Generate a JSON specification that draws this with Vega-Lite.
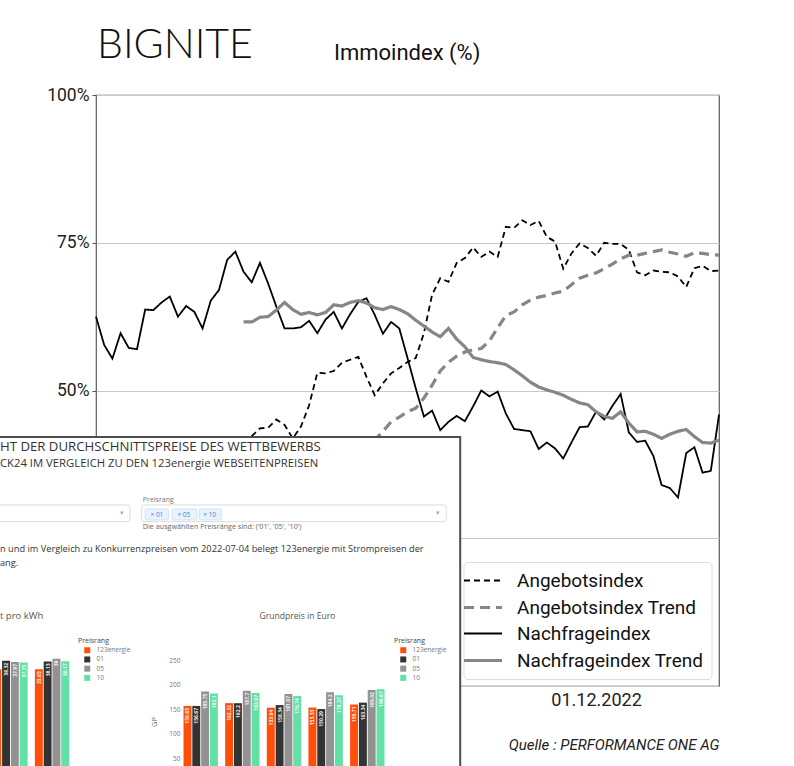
{
  "$schema": "https://vega.github.io/schema/vega-lite/v6.json",
  "width": 623,
  "height": 591,
  "autosize": "none",
  "padding": {"left": 96, "top": 95, "right": 75, "bottom": 80},
  "background": "white",
  "title": {"text": "Immoindex (%)", "anchor": "start", "frame": "group", "dx": 238, "offset": -40, "fontSize": 22, "font": "Roboto", "fontWeight": "normal", "color": "#111111"},
  "config": {
    "font": "Roboto",
    "view": {"stroke": "#5a5a5a", "strokeWidth": 1.2}
  },
  "datasets": {
    "immo": [
      {"d": "2021-09-30", "Angebotsindex": 30.5, "Nachfrageindex": 62.5},
      {"d": "2021-10-07", "Angebotsindex": 32.0, "Nachfrageindex": 57.7},
      {"d": "2021-10-14", "Angebotsindex": 31.2, "Nachfrageindex": 55.4},
      {"d": "2021-10-21", "Angebotsindex": 33.5, "Nachfrageindex": 59.7},
      {"d": "2021-10-28", "Angebotsindex": 34.1, "Nachfrageindex": 57.2},
      {"d": "2021-11-04", "Angebotsindex": 33.0, "Nachfrageindex": 57.0},
      {"d": "2021-11-11", "Angebotsindex": 35.2, "Nachfrageindex": 63.7},
      {"d": "2021-11-18", "Angebotsindex": 36.4, "Nachfrageindex": 63.6},
      {"d": "2021-11-25", "Angebotsindex": 35.8, "Nachfrageindex": 64.9},
      {"d": "2021-12-02", "Angebotsindex": 37.5, "Nachfrageindex": 65.9},
      {"d": "2021-12-09", "Angebotsindex": 38.1, "Nachfrageindex": 62.5},
      {"d": "2021-12-16", "Angebotsindex": 37.2, "Nachfrageindex": 64.3},
      {"d": "2021-12-23", "Angebotsindex": 39.0, "Nachfrageindex": 63.3},
      {"d": "2021-12-30", "Angebotsindex": 38.4, "Nachfrageindex": 60.5},
      {"d": "2022-01-06", "Angebotsindex": 40.1, "Nachfrageindex": 65.2},
      {"d": "2022-01-13", "Angebotsindex": 39.5, "Nachfrageindex": 67.0},
      {"d": "2022-01-20", "Angebotsindex": 40.8, "Nachfrageindex": 72.1},
      {"d": "2022-01-27", "Angebotsindex": 41.2, "Nachfrageindex": 73.5},
      {"d": "2022-02-03", "Angebotsindex": 40.5, "Angebotsindex Trend": 31.0, "Nachfrageindex": 70.1, "Nachfrageindex Trend": 61.6},
      {"d": "2022-02-10", "Angebotsindex": 42.3, "Angebotsindex Trend": 31.6, "Nachfrageindex": 68.3, "Nachfrageindex Trend": 61.6},
      {"d": "2022-02-17", "Angebotsindex": 43.6, "Angebotsindex Trend": 32.2, "Nachfrageindex": 71.6, "Nachfrageindex Trend": 62.4},
      {"d": "2022-02-24", "Angebotsindex": 43.7, "Angebotsindex Trend": 32.8, "Nachfrageindex": 68.1, "Nachfrageindex Trend": 62.5},
      {"d": "2022-03-03", "Angebotsindex": 45.1, "Angebotsindex Trend": 33.4, "Nachfrageindex": 64.2, "Nachfrageindex Trend": 63.6},
      {"d": "2022-03-10", "Angebotsindex": 44.2, "Angebotsindex Trend": 34.0, "Nachfrageindex": 60.5, "Nachfrageindex Trend": 64.9},
      {"d": "2022-03-17", "Angebotsindex": 41.9, "Angebotsindex Trend": 34.5, "Nachfrageindex": 60.5, "Nachfrageindex Trend": 63.7},
      {"d": "2022-03-24", "Angebotsindex": 43.9, "Angebotsindex Trend": 35.1, "Nachfrageindex": 60.7, "Nachfrageindex Trend": 62.9},
      {"d": "2022-03-31", "Angebotsindex": 47.5, "Angebotsindex Trend": 35.7, "Nachfrageindex": 61.8, "Nachfrageindex Trend": 63.2},
      {"d": "2022-04-07", "Angebotsindex": 53.0, "Angebotsindex Trend": 36.3, "Nachfrageindex": 59.7, "Nachfrageindex Trend": 62.8},
      {"d": "2022-04-14", "Angebotsindex": 52.9, "Angebotsindex Trend": 37.0, "Nachfrageindex": 62.0, "Nachfrageindex Trend": 63.2},
      {"d": "2022-04-21", "Angebotsindex": 53.3, "Angebotsindex Trend": 37.6, "Nachfrageindex": 63.3, "Nachfrageindex Trend": 64.5},
      {"d": "2022-04-28", "Angebotsindex": 54.7, "Angebotsindex Trend": 38.3, "Nachfrageindex": 60.5, "Nachfrageindex Trend": 64.3},
      {"d": "2022-05-05", "Angebotsindex": 55.2, "Angebotsindex Trend": 39.0, "Nachfrageindex": 62.9, "Nachfrageindex Trend": 64.9},
      {"d": "2022-05-12", "Angebotsindex": 55.7, "Angebotsindex Trend": 39.8, "Nachfrageindex": 65.0, "Nachfrageindex Trend": 65.2},
      {"d": "2022-05-19", "Angebotsindex": 52.3, "Angebotsindex Trend": 40.6, "Nachfrageindex": 65.6, "Nachfrageindex Trend": 64.8},
      {"d": "2022-05-26", "Angebotsindex": 49.2, "Angebotsindex Trend": 41.6, "Nachfrageindex": 62.8, "Nachfrageindex Trend": 64.0},
      {"d": "2022-06-02", "Angebotsindex": 51.2, "Angebotsindex Trend": 43.1, "Nachfrageindex": 59.6, "Nachfrageindex Trend": 63.7},
      {"d": "2022-06-09", "Angebotsindex": 52.9, "Angebotsindex Trend": 44.7, "Nachfrageindex": 61.6, "Nachfrageindex Trend": 64.2},
      {"d": "2022-06-16", "Angebotsindex": 53.8, "Angebotsindex Trend": 45.5, "Nachfrageindex": 60.5, "Nachfrageindex Trend": 63.7},
      {"d": "2022-06-23", "Angebotsindex": 54.8, "Angebotsindex Trend": 46.4, "Nachfrageindex": 55.5, "Nachfrageindex Trend": 63.0},
      {"d": "2022-06-30", "Angebotsindex": 55.5, "Angebotsindex Trend": 47.0, "Nachfrageindex": 50.4, "Nachfrageindex Trend": 61.9},
      {"d": "2022-07-07", "Angebotsindex": 59.7, "Angebotsindex Trend": 48.7, "Nachfrageindex": 45.6, "Nachfrageindex Trend": 60.9},
      {"d": "2022-07-14", "Angebotsindex": 66.2, "Angebotsindex Trend": 50.9, "Nachfrageindex": 46.6, "Nachfrageindex Trend": 59.9},
      {"d": "2022-07-21", "Angebotsindex": 69.0, "Angebotsindex Trend": 53.3, "Nachfrageindex": 43.3, "Nachfrageindex Trend": 59.1},
      {"d": "2022-07-28", "Angebotsindex": 68.4, "Angebotsindex Trend": 54.8, "Nachfrageindex": 44.7, "Nachfrageindex Trend": 60.5},
      {"d": "2022-08-04", "Angebotsindex": 71.6, "Angebotsindex Trend": 55.8, "Nachfrageindex": 45.7, "Nachfrageindex Trend": 58.7},
      {"d": "2022-08-11", "Angebotsindex": 72.4, "Angebotsindex Trend": 56.5, "Nachfrageindex": 44.8, "Nachfrageindex Trend": 57.4},
      {"d": "2022-08-18", "Angebotsindex": 74.2, "Angebotsindex Trend": 56.9, "Nachfrageindex": 47.3, "Nachfrageindex Trend": 55.6},
      {"d": "2022-08-25", "Angebotsindex": 72.6, "Angebotsindex Trend": 57.1, "Nachfrageindex": 50.0, "Nachfrageindex Trend": 55.2},
      {"d": "2022-09-01", "Angebotsindex": 73.5, "Angebotsindex Trend": 58.4, "Nachfrageindex": 49.0, "Nachfrageindex Trend": 54.9},
      {"d": "2022-09-08", "Angebotsindex": 72.6, "Angebotsindex Trend": 60.6, "Nachfrageindex": 49.8, "Nachfrageindex Trend": 54.7},
      {"d": "2022-09-15", "Angebotsindex": 77.7, "Angebotsindex Trend": 62.7, "Nachfrageindex": 46.1, "Nachfrageindex Trend": 54.4},
      {"d": "2022-09-22", "Angebotsindex": 77.5, "Angebotsindex Trend": 63.3, "Nachfrageindex": 43.5, "Nachfrageindex Trend": 53.5},
      {"d": "2022-09-29", "Angebotsindex": 78.8, "Angebotsindex Trend": 64.5, "Nachfrageindex": 43.3, "Nachfrageindex Trend": 52.5},
      {"d": "2022-10-06", "Angebotsindex": 78.0, "Angebotsindex Trend": 65.3, "Nachfrageindex": 43.1, "Nachfrageindex Trend": 51.4},
      {"d": "2022-10-13", "Angebotsindex": 78.7, "Angebotsindex Trend": 65.8, "Nachfrageindex": 40.1, "Nachfrageindex Trend": 50.6},
      {"d": "2022-10-20", "Angebotsindex": 76.0, "Angebotsindex Trend": 66.1, "Nachfrageindex": 41.2, "Nachfrageindex Trend": 50.1},
      {"d": "2022-10-27", "Angebotsindex": 75.2, "Angebotsindex Trend": 66.5, "Nachfrageindex": 40.2, "Nachfrageindex Trend": 49.7},
      {"d": "2022-11-03", "Angebotsindex": 70.6, "Angebotsindex Trend": 66.8, "Nachfrageindex": 38.5, "Nachfrageindex Trend": 49.2},
      {"d": "2022-11-10", "Angebotsindex": 73.2, "Angebotsindex Trend": 67.9, "Nachfrageindex": 41.2, "Nachfrageindex Trend": 48.5},
      {"d": "2022-11-17", "Angebotsindex": 74.9, "Angebotsindex Trend": 69.0, "Nachfrageindex": 43.8, "Nachfrageindex Trend": 47.9},
      {"d": "2022-11-24", "Angebotsindex": 74.1, "Angebotsindex Trend": 69.5, "Nachfrageindex": 43.9, "Nachfrageindex Trend": 47.6},
      {"d": "2022-12-01", "Angebotsindex": 72.8, "Angebotsindex Trend": 69.9, "Nachfrageindex": 46.4, "Nachfrageindex Trend": 46.4},
      {"d": "2022-12-08", "Angebotsindex": 75.0, "Angebotsindex Trend": 70.6, "Nachfrageindex": 45.1, "Nachfrageindex Trend": 45.6},
      {"d": "2022-12-15", "Angebotsindex": 74.8, "Angebotsindex Trend": 71.4, "Nachfrageindex": 47.4, "Nachfrageindex Trend": 45.3},
      {"d": "2022-12-22", "Angebotsindex": 74.8, "Angebotsindex Trend": 72.3, "Nachfrageindex": 49.4, "Nachfrageindex Trend": 46.4},
      {"d": "2022-12-29", "Angebotsindex": 73.8, "Angebotsindex Trend": 72.9, "Nachfrageindex": 42.9, "Nachfrageindex Trend": 44.5},
      {"d": "2023-01-05", "Angebotsindex": 70.0, "Angebotsindex Trend": 72.9, "Nachfrageindex": 41.3, "Nachfrageindex Trend": 43.0},
      {"d": "2023-01-12", "Angebotsindex": 69.5, "Angebotsindex Trend": 73.2, "Nachfrageindex": 41.5, "Nachfrageindex Trend": 43.1},
      {"d": "2023-01-19", "Angebotsindex": 70.3, "Angebotsindex Trend": 73.5, "Nachfrageindex": 38.9, "Nachfrageindex Trend": 42.6},
      {"d": "2023-01-26", "Angebotsindex": 70.1, "Angebotsindex Trend": 73.8, "Nachfrageindex": 34.0, "Nachfrageindex Trend": 41.9},
      {"d": "2023-02-02", "Angebotsindex": 70.0, "Angebotsindex Trend": 73.4, "Nachfrageindex": 33.5, "Nachfrageindex Trend": 42.6},
      {"d": "2023-02-09", "Angebotsindex": 69.3, "Angebotsindex Trend": 73.1, "Nachfrageindex": 31.9, "Nachfrageindex Trend": 43.1},
      {"d": "2023-02-16", "Angebotsindex": 67.5, "Angebotsindex Trend": 72.7, "Nachfrageindex": 39.4, "Nachfrageindex Trend": 43.4},
      {"d": "2023-02-23", "Angebotsindex": 70.7, "Angebotsindex Trend": 73.3, "Nachfrageindex": 40.4, "Nachfrageindex Trend": 42.2},
      {"d": "2023-03-02", "Angebotsindex": 71.1, "Angebotsindex Trend": 73.2, "Nachfrageindex": 36.1, "Nachfrageindex Trend": 41.2},
      {"d": "2023-03-09", "Angebotsindex": 70.2, "Angebotsindex Trend": 73.0, "Nachfrageindex": 36.4, "Nachfrageindex Trend": 41.1},
      {"d": "2023-03-16", "Angebotsindex": 70.3, "Angebotsindex Trend": 72.9, "Nachfrageindex": 45.9, "Nachfrageindex Trend": 41.6}
    ],
    "gp": [
      {"Gruppe": "1", "Preisrang": "123energie", "GP": 156.65},
      {"Gruppe": "1", "Preisrang": "01", "GP": 156.67},
      {"Gruppe": "1", "Preisrang": "05", "GP": 185.75},
      {"Gruppe": "1", "Preisrang": "10", "GP": 182.1},
      {"Gruppe": "2", "Preisrang": "123energie", "GP": 162.32},
      {"Gruppe": "2", "Preisrang": "01", "GP": 162.2},
      {"Gruppe": "2", "Preisrang": "05", "GP": 187.7},
      {"Gruppe": "2", "Preisrang": "10", "GP": 182.97},
      {"Gruppe": "3", "Preisrang": "123energie", "GP": 153.04},
      {"Gruppe": "3", "Preisrang": "01", "GP": 158.34},
      {"Gruppe": "3", "Preisrang": "05", "GP": 181.07},
      {"Gruppe": "3", "Preisrang": "10", "GP": 176.74},
      {"Gruppe": "4", "Preisrang": "123energie", "GP": 153.33},
      {"Gruppe": "4", "Preisrang": "01", "GP": 150.29},
      {"Gruppe": "4", "Preisrang": "05", "GP": 184.2},
      {"Gruppe": "4", "Preisrang": "10", "GP": 178.37},
      {"Gruppe": "5", "Preisrang": "123energie", "GP": 159.71},
      {"Gruppe": "5", "Preisrang": "01", "GP": 163.34},
      {"Gruppe": "5", "Preisrang": "05", "GP": 189.02},
      {"Gruppe": "5", "Preisrang": "10", "GP": 190.67}
    ],
    "kwh": [
      {"Gruppe": "4", "Preisrang": "123energie", "ct": 35.62},
      {"Gruppe": "4", "Preisrang": "01", "ct": 38.32},
      {"Gruppe": "4", "Preisrang": "05", "ct": 37.97},
      {"Gruppe": "4", "Preisrang": "10", "ct": 37.75},
      {"Gruppe": "5", "Preisrang": "123energie", "ct": 35.65},
      {"Gruppe": "5", "Preisrang": "01", "ct": 38.13},
      {"Gruppe": "5", "Preisrang": "05", "ct": 39.0},
      {"Gruppe": "5", "Preisrang": "10", "ct": 38.17}
    ]
  },
  "layer": [
    {
      "layer": [
        {
          "data": {"name": "immo"},
          "transform": [
            {"fold": ["Angebotsindex", "Angebotsindex Trend", "Nachfrageindex", "Nachfrageindex Trend"], "as": ["Reihe", "Wert"]},
            {"filter": "isValid(datum.Wert)"}
          ],
          "mark": {"type": "line"},
          "encoding": {
            "x": {
              "field": "d", "type": "temporal",
              "scale": {"domain": [{"year": 2021, "month": 9, "date": 30, "utc": true}, {"year": 2023, "month": 3, "date": 16, "utc": true}]},
              "axis": {
                "values": [{"year": 2022, "month": 12, "date": 1, "utc": true}],
                "format": "%d.%m.%Y", "grid": false, "domain": false, "ticks": false,
                "labelFontSize": 18, "labelColor": "#222222", "labelPadding": 5,
                "title": "Quelle : PERFORMANCE ONE AG", "titleAnchor": "end", "titleFontStyle": "italic",
                "titleFontWeight": "normal", "titleFontSize": 15, "titleColor": "#222222", "titlePadding": 28
              }
            },
            "y": {
              "field": "Wert", "type": "quantitative",
              "scale": {"domain": [0, 100], "nice": false, "zero": false},
              "axis": {
                "values": [0, 25, 50, 75, 100], "labelExpr": "datum.value >= 50 ? datum.value + '%' : ''",
                "grid": true, "gridColor": "#c8c8c8", "domain": false, "tickColor": "#555555", "tickSize": 4,
                "labelFontSize": 17.5, "labelColor": "#222222", "labelPadding": 3, "title": null
              }
            },
            "color": {
              "field": "Reihe", "type": "nominal",
              "scale": {"domain": ["Angebotsindex", "Angebotsindex Trend", "Nachfrageindex", "Nachfrageindex Trend"], "range": ["#000000", "#868686", "#000000", "#868686"]},
              "legend": {
                "title": null, "orient": "none", "legendX": 367.5, "legendY": 467,
                "symbolType": "M-2,0H2", "symbolSize": 361, "labelFontSize": 19, "labelFont": "Roboto", "labelColor": "#111111", "labelLimit": 400,
                "labelOffset": 22.5, "rowPadding": 5, "padding": 8, "strokeColor": "#dddddd", "fillColor": "#ffffff", "cornerRadius": 4
              }
            },
            "strokeDash": {
              "field": "Reihe", "type": "nominal",
              "scale": {"domain": ["Angebotsindex", "Angebotsindex Trend", "Nachfrageindex", "Nachfrageindex Trend"], "range": [[6, 4], [10, 6], [1, 0], [1, 0]]},
              "legend": {"title": null, "orient": "none"}
            },
            "strokeWidth": {
              "field": "Reihe", "type": "nominal",
              "scale": {"type": "ordinal", "domain": ["Angebotsindex", "Angebotsindex Trend", "Nachfrageindex", "Nachfrageindex Trend"], "range": [1.8, 3.2, 1.8, 3.2]},
              "legend": {"title": null, "orient": "none"}
            }
          }
        },
        {
          "data": {"values": [{}]},
          "mark": {"type": "rect", "fill": "#ffffff", "stroke": "#4d4d4d", "strokeWidth": 2},
          "encoding": {
            "x": {"datum": {"year": 2021, "month": 6, "date": 1, "utc": true}, "type": "temporal"},
            "x2": {"datum": {"year": 2022, "month": 8, "date": 7, "utc": true}},
            "y": {"datum": 42.13, "type": "quantitative"},
            "y2": {"datum": -25}
          }
        },
        {
          "data": {"values": [{}]},
          "mark": {"type": "rect", "fill": "#ffffff", "stroke": "#dcdcdc", "strokeWidth": 1, "cornerRadius": 2},
          "encoding": {
            "x": {"datum": {"year": 2021, "month": 6, "date": 1, "utc": true}, "type": "temporal"},
            "x2": {"datum": {"year": 2021, "month": 10, "date": 29, "utc": true}},
            "y": {"datum": 30.63, "type": "quantitative"},
            "y2": {"datum": 27.8}
          }
        },
        {
          "data": {"values": [{}]},
          "mark": {"type": "rect", "fill": "#ffffff", "stroke": "#dcdcdc", "strokeWidth": 1, "cornerRadius": 2},
          "encoding": {
            "x": {"datum": {"year": 2021, "month": 11, "date": 8, "utc": true}, "type": "temporal"},
            "x2": {"datum": {"year": 2022, "month": 7, "date": 26, "utc": true}},
            "y": {"datum": 30.63, "type": "quantitative"},
            "y2": {"datum": 27.8}
          }
        },
        {
          "data": {"values": [{}]},
          "mark": {"type": "rect", "fill": "#eaf2fc", "stroke": "#c9ddf3", "strokeWidth": 0.8, "cornerRadius": 1},
          "encoding": {
            "x": {"datum": {"year": 2021, "month": 11, "date": 11, "utc": true}, "type": "temporal"},
            "x2": {"datum": {"year": 2021, "month": 12, "date": 1, "utc": true}},
            "y": {"datum": 29.95, "type": "quantitative"},
            "y2": {"datum": 28.09}
          }
        },
        {
          "data": {"values": [{}]},
          "mark": {"type": "rect", "fill": "#eaf2fc", "stroke": "#c9ddf3", "strokeWidth": 0.8, "cornerRadius": 1},
          "encoding": {
            "x": {"datum": {"year": 2021, "month": 12, "date": 4, "utc": true}, "type": "temporal"},
            "x2": {"datum": {"year": 2021, "month": 12, "date": 25, "utc": true}},
            "y": {"datum": 29.95, "type": "quantitative"},
            "y2": {"datum": 28.09}
          }
        },
        {
          "data": {"values": [{}]},
          "mark": {"type": "rect", "fill": "#eaf2fc", "stroke": "#c9ddf3", "strokeWidth": 0.8, "cornerRadius": 1},
          "encoding": {
            "x": {"datum": {"year": 2021, "month": 12, "date": 27, "utc": true}, "type": "temporal"},
            "x2": {"datum": {"year": 2022, "month": 1, "date": 15, "utc": true}},
            "y": {"datum": 29.95, "type": "quantitative"},
            "y2": {"datum": 28.09}
          }
        },
        {
          "data": {"values": [{}]},
          "mark": {"type": "text", "text": "HT DER DURCHSCHNITTSPREISE DES WETTBEWERBS", "align": "left", "baseline": "alphabetic", "font": "Open Sans", "fontSize": 13.2, "color": "#333333"},
          "encoding": {"x": {"datum": {"year": 2021, "month": 7, "date": 10, "utc": true}, "type": "temporal"}, "y": {"datum": 39.8, "type": "quantitative"}}
        },
        {
          "data": {"values": [{}]},
          "mark": {"type": "text", "text": "CK24 IM VERGLEICH ZU DEN 123energie WEBSEITENPREISEN", "align": "left", "baseline": "alphabetic", "font": "Open Sans", "fontSize": 11.3, "color": "#333333"},
          "encoding": {"x": {"datum": {"year": 2021, "month": 7, "date": 10, "utc": true}, "type": "temporal"}, "y": {"datum": 37.06, "type": "quantitative"}}
        },
        {
          "data": {"values": [{}]},
          "mark": {"type": "text", "text": "Preisrang", "align": "left", "baseline": "alphabetic", "font": "Open Sans", "fontSize": 7, "color": "#777777"},
          "encoding": {"x": {"datum": {"year": 2021, "month": 11, "date": 9, "utc": true}, "type": "temporal"}, "y": {"datum": 31.13, "type": "quantitative"}}
        },
        {
          "data": {"values": [{}]},
          "mark": {"type": "text", "text": "Die ausgwählten Preisränge sind: ('01', '05', '10')", "align": "left", "baseline": "alphabetic", "font": "Open Sans", "fontSize": 7.2, "color": "#666666"},
          "encoding": {"x": {"datum": {"year": 2021, "month": 11, "date": 9, "utc": true}, "type": "temporal"}, "y": {"datum": 26.57, "type": "quantitative"}}
        },
        {
          "data": {"values": [{}]},
          "mark": {"type": "text", "text": "n und im Vergleich zu Konkurrenzpreisen vom 2022-07-04 belegt 123energie mit Strompreisen der", "align": "left", "baseline": "alphabetic", "font": "Open Sans", "fontSize": 9.25, "color": "#333333"},
          "encoding": {"x": {"datum": {"year": 2021, "month": 7, "date": 10, "utc": true}, "type": "temporal"}, "y": {"datum": 22.67, "type": "quantitative"}}
        },
        {
          "data": {"values": [{}]},
          "mark": {"type": "text", "text": "ang.", "align": "left", "baseline": "alphabetic", "font": "Open Sans", "fontSize": 9.25, "color": "#333333"},
          "encoding": {"x": {"datum": {"year": 2021, "month": 7, "date": 10, "utc": true}, "type": "temporal"}, "y": {"datum": 20.3, "type": "quantitative"}}
        },
        {
          "data": {"values": [{}]},
          "mark": {"type": "text", "text": "t pro kWh", "align": "left", "baseline": "alphabetic", "font": "Open Sans", "fontSize": 9.5, "color": "#555555"},
          "encoding": {"x": {"datum": {"year": 2021, "month": 7, "date": 10, "utc": true}, "type": "temporal"}, "y": {"datum": 11.34, "type": "quantitative"}}
        },
        {
          "data": {"values": [{}]},
          "mark": {"type": "text", "text": "Grundpreis in Euro", "align": "center", "baseline": "alphabetic", "font": "Open Sans", "fontSize": 8.6, "color": "#555555"},
          "encoding": {"x": {"datum": {"year": 2022, "month": 3, "date": 21, "utc": true}, "type": "temporal"}, "y": {"datum": 11.34, "type": "quantitative"}}
        },
        {
          "data": {"values": [{}]},
          "mark": {"type": "text", "text": "× 01", "align": "center", "baseline": "alphabetic", "font": "Open Sans", "fontSize": 6.5, "color": "#3d8bd9"},
          "encoding": {"x": {"datum": {"year": 2021, "month": 11, "date": 21, "utc": true}, "type": "temporal"}, "y": {"datum": 28.6, "type": "quantitative"}}
        },
        {
          "data": {"values": [{}]},
          "mark": {"type": "text", "text": "× 05", "align": "center", "baseline": "alphabetic", "font": "Open Sans", "fontSize": 6.5, "color": "#3d8bd9"},
          "encoding": {"x": {"datum": {"year": 2021, "month": 12, "date": 14, "utc": true}, "type": "temporal"}, "y": {"datum": 28.6, "type": "quantitative"}}
        },
        {
          "data": {"values": [{}]},
          "mark": {"type": "text", "text": "× 10", "align": "center", "baseline": "alphabetic", "font": "Open Sans", "fontSize": 6.5, "color": "#3d8bd9"},
          "encoding": {"x": {"datum": {"year": 2022, "month": 1, "date": 5, "utc": true}, "type": "temporal"}, "y": {"datum": 28.6, "type": "quantitative"}}
        },
        {
          "data": {"values": [{}]},
          "mark": {"type": "text", "text": "▾", "align": "center", "baseline": "middle", "fontSize": 7, "color": "#aaaaaa"},
          "encoding": {"x": {"datum": {"year": 2021, "month": 10, "date": 22, "utc": true}, "type": "temporal"}, "y": {"datum": 29.2, "type": "quantitative"}}
        },
        {
          "data": {"values": [{}]},
          "mark": {"type": "text", "text": "▾", "align": "center", "baseline": "middle", "fontSize": 7, "color": "#aaaaaa"},
          "encoding": {"x": {"datum": {"year": 2022, "month": 7, "date": 19, "utc": true}, "type": "temporal"}, "y": {"datum": 29.2, "type": "quantitative"}}
        },
        {
          "data": {"values": [{}]},
          "mark": {"type": "text", "text": "BIGNITE", "align": "left", "baseline": "alphabetic", "font": "Lato", "fontWeight": 300, "fontSize": 41, "color": "#111111", "dx": 1},
          "encoding": {"x": {"datum": {"year": 2021, "month": 9, "date": 30, "utc": true}, "type": "temporal"}, "y": {"datum": 106.2, "type": "quantitative"}}
        }
      ]
    },
    {
      "data": {"name": "gp"},
      "encoding": {
        "x": {"field": "Gruppe", "type": "nominal", "scale": {"range": [87.5, 288.5], "paddingInner": 0.174, "paddingOuter": 0}, "axis": null},
        "xOffset": {"field": "Preisrang", "type": "nominal", "scale": {"domain": ["123energie", "01", "05", "10"], "paddingInner": 0.1}},
        "y": {
          "field": "GP", "type": "quantitative",
          "scale": {"domain": [0, 250], "range": [688, 565], "nice": false},
          "axis": {
            "orient": "left", "offset": -86, "values": [50, 100, 150, 200, 250], "grid": false, "domain": false, "ticks": false,
            "labelPadding": 2, "labelFontSize": 6.5, "labelColor": "#777777", "labelFont": "Open Sans",
            "title": "GP", "titleFont": "Open Sans", "titleFontSize": 7.5, "titleColor": "#666666", "titleFontWeight": "normal", "titlePadding": 10, "zindex": 1
          }
        }
      },
      "layer": [
        {
          "mark": {"type": "bar"},
          "encoding": {
            "color": {
              "field": "Preisrang", "type": "nominal",
              "scale": {"domain": ["123energie", "01", "05", "10"], "range": ["#ff4d0a", "#333333", "#929292", "#62e0a6"]},
              "legend": {
                "orient": "none", "legendX": 298, "legendY": 542, "title": "Preisrang", "titleFont": "Open Sans", "titleFontSize": 7,
                "titleFontWeight": "normal", "titleColor": "#444444", "labelFont": "Open Sans", "labelFontSize": 6.5, "labelColor": "#777777",
                "symbolType": "square", "symbolSize": 36, "symbolStrokeWidth": 0, "rowPadding": 2.2, "titlePadding": 3,
                "symbolOffset": 6, "labelOffset": 6, "padding": 0
              }
            }
          }
        },
        {
          "mark": {"type": "text", "angle": 270, "align": "right", "baseline": "middle", "dx": -2, "fontSize": 5, "font": "Open Sans", "fontWeight": "bold", "color": "#ffffff", "opacity": 0.9},
          "encoding": {"text": {"field": "GP", "type": "quantitative", "format": ".2~f"}}
        }
      ]
    },
    {
      "data": {"name": "kwh"},
      "encoding": {
        "x": {"field": "Gruppe", "type": "nominal", "scale": {"range": [-102.7, -26.8], "paddingInner": 0.174, "paddingOuter": 0}, "axis": null},
        "xOffset": {"field": "Preisrang", "type": "nominal", "scale": {"domain": ["123energie", "01", "05", "10"], "paddingInner": 0.1}},
        "y": {"field": "ct", "type": "quantitative", "scale": {"domain": [0, 40], "range": [686.5, 560.5], "nice": false}, "axis": null}
      },
      "layer": [
        {
          "mark": {"type": "bar"},
          "encoding": {
            "color": {
              "field": "Preisrang", "type": "nominal",
              "scale": {"domain": ["123energie", "01", "05", "10"], "range": ["#ff4d0a", "#333333", "#929292", "#62e0a6"]},
              "legend": {
                "orient": "none", "legendX": -18, "legendY": 542, "title": "Preisrang", "titleFont": "Open Sans", "titleFontSize": 7,
                "titleFontWeight": "normal", "titleColor": "#444444", "labelFont": "Open Sans", "labelFontSize": 6.5, "labelColor": "#777777",
                "symbolType": "square", "symbolSize": 36, "symbolStrokeWidth": 0, "rowPadding": 2.2, "titlePadding": 3,
                "symbolOffset": 6, "labelOffset": 6, "padding": 0
              }
            }
          }
        },
        {
          "transform": [{"filter": "datum.Gruppe == '5' || datum.Preisrang != '123energie'"}],
          "mark": {"type": "text", "angle": 270, "align": "right", "baseline": "middle", "dx": -2, "fontSize": 5, "font": "Open Sans", "fontWeight": "bold", "color": "#ffffff", "opacity": 0.9},
          "encoding": {"text": {"field": "ct", "type": "quantitative", "format": ".2~f"}}
        }
      ]
    }
  ],
  "resolve": {"scale": {"x": "independent", "y": "independent", "color": "independent", "xOffset": "independent", "strokeDash": "independent", "strokeWidth": "independent"}}
}
